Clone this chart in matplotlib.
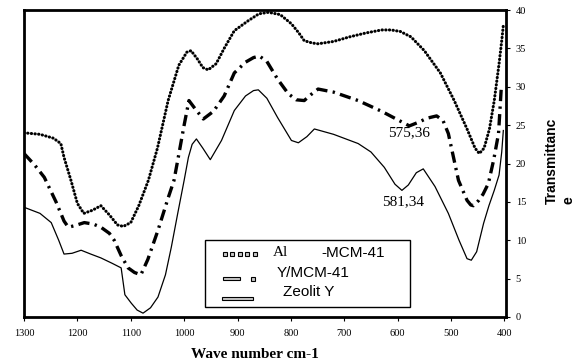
import matplotlib
matplotlib.use('Agg')
import matplotlib.pyplot as plt
from matplotlib.patches import Rectangle

# wave numbers (cm-1) and transmittance
al_wave = [1300, 1270, 1245, 1231, 1225, 1212, 1200, 1188, 1172, 1156, 1140, 1125, 1114, 1100,
           1085, 1067, 1050, 1030, 1010, 995, 987, 975, 965, 955, 940, 925, 906, 880, 860,
           842, 820, 799, 785, 775, 760, 749, 720, 690, 660, 630, 612, 595, 575, 550, 520,
           494, 470, 455, 447, 438, 428, 419, 410, 405, 402]
al_val = [24.0, 23.8, 23.3, 22.6, 20.8, 17.8, 14.8, 13.5, 13.9, 14.5, 13.3, 12.0, 11.8, 12.3,
          14.5, 17.8, 22.0, 28.2, 32.8, 34.5, 34.7, 33.6, 32.5, 32.2, 33.0, 35.0, 37.3, 38.6, 39.5,
          39.7, 39.4, 38.2, 37.0, 36.0, 35.7, 35.6, 35.9, 36.5, 37.0, 37.4, 37.4, 37.2, 36.5, 34.7, 31.8,
          28.2, 24.5, 22.0, 21.3, 22.0, 24.5, 28.2, 33.0, 36.0, 38.0]

y_wave = [1300, 1280, 1262, 1240, 1225, 1217, 1205, 1187, 1170, 1156, 1140, 1131, 1118, 1105,
          1093, 1081, 1068, 1049, 1030, 1019, 1011, 1000, 991, 978, 964, 945, 925, 906, 885,
          870, 859, 845, 825, 805, 790, 775, 762, 749, 720, 674, 630, 600, 578, 560, 545,
          527, 515, 505, 486, 470, 463, 458, 448, 440, 430, 420, 411, 406]
y_val = [21.3, 19.8, 18.2, 15.0, 12.5, 11.7, 11.9, 12.3, 12.1, 11.7, 10.9, 10.0, 8.0, 6.4,
         5.8, 5.5, 7.5, 11.3, 15.5, 17.8, 20.8, 25.0, 28.2, 27.0, 25.8, 26.8, 28.8, 31.8, 33.2,
         33.8, 34.0, 33.3, 31.0, 29.1, 28.3, 28.2, 29.0, 29.7, 29.3, 28.2, 26.8, 25.7, 24.9, 25.4, 25.9,
         26.2, 25.6, 23.9, 17.8, 15.2, 14.6, 14.5, 15.2, 16.0, 17.4, 20.5, 23.9, 29.7]

z_wave = [1300, 1270, 1249, 1235, 1225, 1210, 1193, 1175, 1156, 1135, 1118, 1111, 1099, 1088,
          1077, 1063, 1049, 1035, 1024, 1012, 1000, 992, 985, 977, 965, 951, 930, 906, 885,
          870, 861, 845, 825, 799, 786, 770, 756, 720, 674, 650, 625, 605, 592, 580, 565,
          552, 530, 505, 485, 470, 462, 452, 439, 429, 419, 410, 405, 402]
z_val = [14.3, 13.5, 12.3, 10.0, 8.2, 8.3, 8.7, 8.2, 7.7, 7.0, 6.4, 2.9, 1.8, 0.9,
         0.5, 1.2, 2.6, 5.5, 9.1, 13.5, 17.8, 20.8, 22.5, 23.2, 22.0, 20.5, 23.0, 26.9, 28.8,
         29.5, 29.6, 28.5, 26.0, 23.0, 22.7, 23.5, 24.5, 23.8, 22.6, 21.5, 19.5, 17.3, 16.5, 17.2, 18.8,
         19.3, 17.0, 13.5, 10.0, 7.6, 7.4, 8.5, 12.2, 14.5, 16.5, 18.5, 21.5, 24.3]

x_ticks = [1300, 1200, 1100, 1000, 900, 800, 700, 600, 500, 400]
y_ticks = [0, 5, 10, 15, 20, 25, 30, 35, 40]

fig = plt.figure(figsize=(5.81, 3.64), dpi=100)
ax = fig.add_axes([24 / 581, 1 - 317 / 364, (506 - 24) / 581, (317 - 10) / 364])

ax.plot(al_wave, al_val, color='black', lw=2.2, linestyle=(0, (0.1, 1.1)),
        dash_capstyle='round', solid_capstyle='round')
ax.plot(y_wave, y_val, color='black', lw=2.4, linestyle=(0, (3.4, 1.6, 0.7, 1.6)))
ax.plot(z_wave, z_val, color='black', lw=0.9)

ax.set_xlim(1300, 397)
ax.set_ylim(0, 40)
ax.set_xticks(x_ticks)
ax.set_yticks(y_ticks)
ax.yaxis.tick_right()
for s in ax.spines.values():
    s.set_linewidth(2.0)
ax.tick_params(axis='both', direction='out', length=3, width=0.8, labelsize=7.5)
ax.tick_params(axis='x', pad=6)
ax.tick_params(axis='y', pad=4)
for lab in ax.get_xticklabels() + ax.get_yticklabels():
    lab.set_family('Liberation Serif')

# annotations of the marked points
ax.text(409 / 581, 1 - 133 / 364, '575,36', transform=fig.transFigure, ha='center', va='center',
        family='Liberation Serif', fontsize=11)
ax.text(403 / 581, 1 - 202 / 364, '581,34', transform=fig.transFigure, ha='center', va='center',
        family='Liberation Serif', fontsize=11)

fig.text(255 / 581, 1 - 358 / 364, 'Wave number cm-1', ha='center', va='baseline',
         family='Liberation Serif', fontweight='bold', fontsize=11)
fig.text(560 / 581, 1 - 161 / 364, 'Transmittanc\ne', rotation=90, ha='center', va='center',
         multialignment='left', family='Liberation Sans', fontweight='bold', fontsize=10)

# hand made legend box
W, H = 581.0, 364.0
def fx(px):
    return px / W
def fy(py):
    return 1 - py / H

fig.patches.append(Rectangle((fx(205), fy(307)), fx(410) - fx(205), fy(240) - fy(307),
                             transform=fig.transFigure, fill=False, edgecolor='black', lw=1.0))
gray = '#c8c8c8'
for i in range(5):
    fig.patches.append(Rectangle((fx(223 + i * 7.4), fy(256)), fx(4), fy(252) - fy(256),
                                 transform=fig.transFigure, facecolor=gray, edgecolor='black', lw=0.8))
fig.patches.append(Rectangle((fx(223), fy(280)), fx(17), fy(277) - fy(280),
                             transform=fig.transFigure, facecolor=gray, edgecolor='black', lw=0.8))
fig.patches.append(Rectangle((fx(251), fy(280.5)), fx(3.5), fy(277) - fy(280.5),
                             transform=fig.transFigure, facecolor=gray, edgecolor='black', lw=0.8))
fig.patches.append(Rectangle((fx(222), fy(300)), fx(31), fy(297) - fy(300),
                             transform=fig.transFigure, facecolor=gray, edgecolor='black', lw=0.8))

fig.text(fx(273), fy(253), 'Al', ha='left', va='center', family='Liberation Serif', fontsize=11)
fig.text(fx(321), fy(253), '-MCM-41', ha='left', va='center', family='Liberation Sans', fontsize=11)
fig.text(fx(277), fy(273), 'Y/MCM-41', ha='left', va='center', family='Liberation Sans', fontsize=11)
fig.text(fx(283), fy(292), 'Zeolit Y', ha='left', va='center', family='Liberation Sans', fontsize=11)

fig.savefig('out.png', dpi=100)
